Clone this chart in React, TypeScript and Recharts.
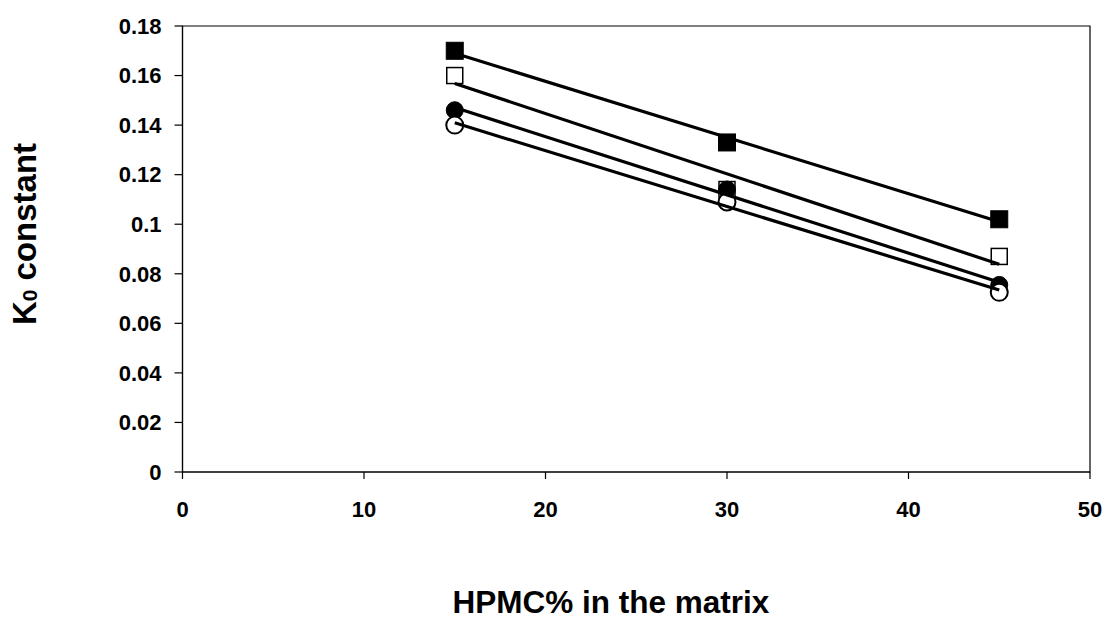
import React from 'react';
import { ScatterChart, Scatter, XAxis, YAxis, ReferenceArea } from 'recharts';

// HPMC content in the matrix (%)
const hpmcLevels = [15, 30, 45];

// K0 constants for the four formulations
const filledSquareK0 = [0.170, 0.133, 0.102];
const openSquareK0 = [0.160, 0.114, 0.087];
const filledCircleK0 = [0.146, 0.114, 0.0755];
const openCircleK0 = [0.140, 0.109, 0.0725];

const xTicks = [0, 10, 20, 30, 40, 50];
const yTicks = [0, 0.02, 0.04, 0.06, 0.08, 0.1, 0.12, 0.14, 0.16, 0.18];

const FONT = '"Liberation Sans", Arial, sans-serif';

type Pt = { x: number; y: number };

const toPoints = (ys: number[]): Pt[] => hpmcLevels.map((x, i) => ({ x, y: ys[i] }));

// Least-squares linear trendline evaluated at the first and last HPMC level
const trendline = (ys: number[]): Pt[] => {
  const n = hpmcLevels.length;
  const mx = hpmcLevels.reduce((a, b) => a + b, 0) / n;
  const my = ys.reduce((a, b) => a + b, 0) / n;
  let sxy = 0;
  let sxx = 0;
  hpmcLevels.forEach((x, i) => {
    sxy += (x - mx) * (ys[i] - my);
    sxx += (x - mx) * (x - mx);
  });
  const slope = sxy / sxx;
  const icpt = my - slope * mx;
  const x0 = hpmcLevels[0];
  const x1 = hpmcLevels[n - 1];
  return [
    { x: x0, y: icpt + slope * x0 },
    { x: x1, y: icpt + slope * x1 },
  ];
};

const SQ = 17;
const R = 8.5;

const FilledSquare = (p: any) => (
  <rect x={p.cx - SQ / 2} y={p.cy - SQ / 2} width={SQ} height={SQ} fill="#000" stroke="#000" strokeWidth={1} />
);
const OpenSquare = (p: any) => (
  <rect x={p.cx - SQ / 2 + 0.5} y={p.cy - SQ / 2 + 0.5} width={SQ - 1} height={SQ - 1} fill="#fff" stroke="#000" strokeWidth={1.5} />
);
const FilledCircle = (p: any) => <circle cx={p.cx} cy={p.cy} r={R} fill="#000" stroke="#000" strokeWidth={1} />;
const OpenCircle = (p: any) => <circle cx={p.cx} cy={p.cy} r={R} fill="#fff" stroke="#000" strokeWidth={2} />;
const NoMarker = () => <g />;

const yTickFmt = (v: number) => String(v);

const YLabel = (props: any) => {
  const vb = props.viewBox || { y: 26, height: 446 };
  const cy = vb.y + vb.height / 2 - 15;
  return (
    <text
      x={24}
      y={cy}
      transform={`rotate(-90, 24, ${cy})`}
      textAnchor="middle"
      dominantBaseline="central"
      fontFamily={FONT}
      fontWeight="bold"
      fontSize={33}
      fill="#000"
    >
      K<tspan fontSize={21} dy={5}>0</tspan>
      <tspan dy={-5}> constant</tspan>
    </text>
  );
};

const XLabel = () => (
  <text x={611} y={613} textAnchor="middle" fontFamily={FONT} fontWeight="bold" fontSize={31.5} fill="#000">
    HPMC% in the matrix
  </text>
);

const series = [
  { ys: filledSquareK0, shape: FilledSquare, name: 'filledSquare' },
  { ys: openSquareK0, shape: OpenSquare, name: 'openSquare' },
  { ys: filledCircleK0, shape: FilledCircle, name: 'filledCircle' },
  { ys: openCircleK0, shape: OpenCircle, name: 'openCircle' },
];

export default function App() {
  const tickStyle = { fontFamily: FONT, fontWeight: 'bold', fontSize: 22, fill: '#000' };
  return (
    <div style={{ position: 'absolute', left: 0, top: 0, background: '#fff' }}>
      <ScatterChart width={1107} height={619} margin={{ top: 26, right: 17, bottom: 0, left: 0 }}>
        <XAxis
          type="number"
          dataKey="x"
          domain={[0, 50]}
          ticks={xTicks}
          interval={0}
          height={147}
          axisLine={{ stroke: '#000', strokeWidth: 1.2 }}
          tickLine={{ stroke: '#000', strokeWidth: 1.2 }}
          tickSize={7}
          tickMargin={22}
          tick={tickStyle}
          label={<XLabel />}
        />
        <YAxis
          type="number"
          dataKey="y"
          domain={[0, 0.18]}
          ticks={yTicks}
          interval={0}
          width={182.5}
          axisLine={{ stroke: '#000', strokeWidth: 1.2 }}
          tickLine={{ stroke: '#000', strokeWidth: 1.2 }}
          tickSize={8}
          tickMargin={13}
          tick={tickStyle}
          tickFormatter={yTickFmt}
          label={<YLabel />}
        />
        <ReferenceArea x1={0} x2={50} y1={0} y2={0.18} fill="none" stroke="#000" strokeWidth={1.2} ifOverflow="visible" />
        {series.map((s) => (
          <Scatter key={s.name} name={s.name} data={toPoints(s.ys)} shape={s.shape} isAnimationActive={false} />
        ))}
        {series.map((s) => (
          <Scatter
            key={s.name + '-trend'}
            name={s.name + ' trend'}
            data={trendline(s.ys)}
            line={{ stroke: '#000', strokeWidth: 3.2 }}
            shape={NoMarker}
            isAnimationActive={false}
          />
        ))}
      </ScatterChart>
    </div>
  );
}
